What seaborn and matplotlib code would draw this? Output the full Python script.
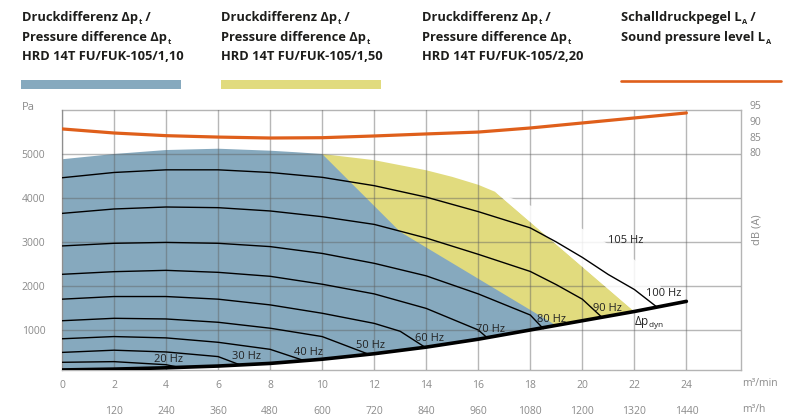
"""
Fan curve chart: pressure difference vs. volume flow, with sound pressure level.
"""
import numpy as np
import pandas as pd
import matplotlib
matplotlib.use('Agg')
import matplotlib.pyplot as plt
from matplotlib.patches import Rectangle, Polygon
from matplotlib.lines import Line2D
import seaborn as sns

sns.set_style('white')
plt.rcParams['font.family'] = ['Open Sans', 'DejaVu Sans']
plt.rcParams['mathtext.fontset'] = 'custom'
plt.rcParams['mathtext.rm'] = 'Open Sans'
plt.rcParams['mathtext.bf'] = 'Open Sans:bold'
plt.rcParams['mathtext.it'] = 'Open Sans:italic'

# ---- data ----
x_ticks = [0, 2, 4, 6, 8, 10, 12, 14, 16, 18, 20, 22, 24]
x_ticks_h = [120, 240, 360, 480, 600, 720, 840, 960, 1080, 1200, 1320, 1440]
y_ticks = [1000, 2000, 3000, 4000, 5000]
db_ticks = [80, 85, 90, 95]

# fan curves per frequency (m3/min, Pa)
curve_hz = [20, 30, 40, 50, 60, 70, 80, 90, 100]
curve_q = [
    [0, 2, 4, 4.5],
    [0, 2, 4, 6, 6.85],
    [0, 2, 4, 6, 8, 9.35],
    [0, 2, 4, 6, 8, 10, 11.8],
    [0, 2, 4, 6, 8, 10, 12, 13, 13.96],
    [0, 2, 4, 6, 8, 10, 12, 14, 16, 16.35],
    [0, 2, 4, 6, 8, 10, 12, 14, 16, 18, 18.5],
    [0, 2, 4, 6, 8, 10, 12, 14, 16, 18, 19, 20, 20.76],
    [0, 2, 4, 6, 8, 10, 12, 14, 16, 18, 19, 20, 21, 22, 22.87],
]
curve_p = [
    [265, 280, 210, 150],
    [490, 540, 500, 395, 205],
    [800, 850, 820, 720, 560, 295],
    [1210, 1265, 1250, 1175, 1040, 850, 445],
    [1700, 1760, 1760, 1700, 1570, 1380, 1150, 970, 605],
    [2265, 2325, 2355, 2310, 2220, 2040, 1820, 1490, 1000, 820],
    [2910, 2970, 2990, 2970, 2895, 2740, 2515, 2230, 1820, 1340, 1030],
    [3650, 3750, 3795, 3780, 3705, 3575, 3400, 3090, 2720, 2330, 2030, 1700, 1285],
    [4460, 4580, 4640, 4640, 4580, 4470, 4280, 4020, 3690, 3320, 3000, 2650, 2260, 1920, 1520],
]
hz_label_q = [4.1, 7.1, 9.47, 11.87, 14.13, 16.49, 18.8, 20.95, 23.13, 21.65]
hz_label_p = [318, 394, 492, 644, 811, 1000, 1242, 1492, 1818, 3023]
hz_labels = ['20 Hz', '30 Hz', '40 Hz', '50 Hz', '60 Hz', '70 Hz', '80 Hz', '90 Hz', '100 Hz', '105 Hz']

# dynamic pressure line
dyn_q = [0, 2, 4, 6, 8, 10, 12, 14, 16, 18, 20, 22, 24]
dyn_p = [91, 110, 140, 180, 240, 335, 460, 610, 790, 1000, 1210, 1420, 1650]

# operating areas
blue_q = [0, 2, 4, 6, 8, 9, 10, 13, 19, 18, 16, 14, 12, 10, 8, 6, 4, 2, 0]
blue_p = [4880, 5000, 5090, 5120, 5075, 5040, 5000, 3230, 1100, 1000, 790, 610, 460, 335, 240, 180, 140, 110, 91]
yellow_q = [10, 12, 14, 15, 16, 16.65, 22, 20, 18, 16, 14, 12, 10]
yellow_p = [5000, 4860, 4630, 4480, 4300, 4140, 1420, 1210, 1000, 790, 610, 460, 335]
white_q = [16.65, 19, 20, 21, 22, 23, 23.4, 22]
white_p = [4140, 3600, 3300, 2950, 2600, 2000, 1570, 1420]

# sound pressure level (dB(A))
sound_q = [0, 2, 4, 6, 8, 10, 12, 14, 16, 18, 20, 22, 24]
sound_db = [88.0, 86.7, 85.85, 85.4, 85.1, 85.2, 85.75, 86.4, 87.0, 88.3, 89.9, 91.5, 93.1]

# header texts: (text, is_subscript) pieces per line
head_x = [22, 221, 422, 621]
head_lines = [
    [[('Druckdifferenz Δp', False), ('t', True), (' /', False)],
     [('Pressure difference Δp', False), ('t', True)],
     [('HRD 14T FU/FUK-105/1,10', False)]],
    [[('Druckdifferenz Δp', False), ('t', True), (' /', False)],
     [('Pressure difference Δp', False), ('t', True)],
     [('HRD 14T FU/FUK-105/1,50', False)]],
    [[('Druckdifferenz Δp', False), ('t', True), (' /', False)],
     [('Pressure difference Δp', False), ('t', True)],
     [('HRD 14T FU/FUK-105/2,20', False)]],
    [[('Schalldruckpegel L', False), ('A', True), (' /', False)],
     [('Sound pressure level L', False), ('A', True)]],
]

BLUE = '#86a9be'
YELLOW = '#e1db7e'
ORANGE = '#df5f1b'
GREY_TXT = '#8a8a8a'
DARK = '#1d1d1b'
HEAD_SIZE = 9.3

W, H = 791, 420
fig = plt.figure(figsize=(W / 100, H / 100), dpi=100)
ax = fig.add_axes([62 / W, 50 / H, 679 / W, 260 / H])

# areas
ax.fill(yellow_q, yellow_p, color=YELLOW, lw=0, zorder=1)
ax.fill(blue_q, blue_p, color=BLUE, lw=0, zorder=1.2)
ax.add_patch(Polygon(np.column_stack([white_q, white_p]), closed=True,
                     facecolor='white', edgecolor='none', alpha=0.85, zorder=2.7))

# fan curves
df_curves = pd.DataFrame({
    'hz': np.repeat(curve_hz, [len(q) for q in curve_q]),
    'q': np.concatenate(curve_q),
    'p': np.concatenate(curve_p),
})
sns.lineplot(data=df_curves, x='q', y='p', units='hz', estimator=None, sort=False,
             color='black', lw=1.0, ax=ax, zorder=4)
sns.lineplot(x=dyn_q, y=dyn_p, color='black', lw=2.6, ax=ax, zorder=5)

for q, p, lab in zip(hz_label_q, hz_label_p, hz_labels):
    ax.text(q, p, lab, fontsize=8, color='#222222', ha='center', va='center', zorder=6)
ax.text(22.55, 1167, r'Δp$_{\mathregular{dyn}}$', fontsize=8.5, color='#222222',
        ha='center', va='center', zorder=6)

ax.set_xlim(0, 26.1)
ax.set_ylim(90, 6000)
ax.set_xticks(x_ticks)
ax.set_yticks(y_ticks)
ax.set_xlabel('')
ax.set_ylabel('')
ax.set_axisbelow(False)
ax.grid(True, color='#606060', alpha=0.45, lw=1.0)
for s in ax.spines.values():
    s.set_color('#b4b4b4')
    s.set_linewidth(1.0)
ax.tick_params(length=0, labelsize=7.5, labelcolor=GREY_TXT)
ax.tick_params(axis='y', pad=12)
ax.tick_params(axis='x', pad=7)

# second flow axis in m3/h
sec = ax.secondary_xaxis(-0.1, functions=(lambda q: q * 60, lambda v: v / 60))
sec.set_xticks(x_ticks_h)
sec.spines['bottom'].set_visible(False)
sec.tick_params(length=0, labelsize=7.5, labelcolor=GREY_TXT, pad=7)

# sound level on twin axis
ax2 = ax.twinx()
sns.lineplot(x=sound_q, y=sound_db, color=ORANGE, lw=2.3, ax=ax2, zorder=5)
ax2.set_ylim(11.06, 94.04)
ax2.set_yticks([])
ax2.set_ylabel('')
for s in ax2.spines.values():
    s.set_visible(False)
for v in db_ticks:
    ax2.text(1.0118, v, str(v), transform=ax2.get_yaxis_transform(), fontsize=7.5,
             color=GREY_TXT, ha='left', va='center', clip_on=False)

# unit labels
fig.text(22 / W, 1 - 107 / H, 'Pa', fontsize=8, color=GREY_TXT, ha='left', va='center')
fig.text(742 / W, 1 - 384 / H, 'm³/min', fontsize=7.5, color=GREY_TXT, ha='left', va='center')
fig.text(742 / W, 1 - 410 / H, 'm³/h', fontsize=7.5, color=GREY_TXT, ha='left', va='center')
fig.text(757 / W, 1 - 230 / H, 'dB (A)', fontsize=8, color=GREY_TXT, rotation=90,
         ha='center', va='center')

# header legend; pieces chained so subscripts sit right after their base text
line_bottoms = [24.0, 44.0, 63.0]
for x0, lines in zip(head_x, head_lines):
    for yb, parts in zip(line_bottoms, lines):
        base = fig.text(x0 / W, 1 - yb / H, parts[0][0], fontsize=HEAD_SIZE,
                        fontweight='bold', color=DARK, ha='left', va='bottom')
        last = base
        for txt, is_sub in parts[1:]:
            if is_sub:
                last = ax.annotate(txt, xy=(1, 0), xycoords=last, xytext=(0.5, -1.2),
                                   textcoords='offset points', fontsize=HEAD_SIZE * 0.58,
                                   fontweight='bold', color=DARK, ha='left', va='bottom',
                                   annotation_clip=False)
            else:
                last = ax.annotate(txt, xy=(1, 0), xycoords=(last, base), xytext=(0, 0),
                                   textcoords='offset points', fontsize=HEAD_SIZE,
                                   fontweight='bold', color=DARK, ha='left', va='bottom',
                                   annotation_clip=False)

fig.add_artist(Rectangle((21 / W, 1 - 89 / H), 160 / W, 9 / H, color=BLUE,
                         transform=fig.transFigure, lw=0))
fig.add_artist(Rectangle((221 / W, 1 - 89 / H), 160 / W, 9 / H, color=YELLOW,
                         transform=fig.transFigure, lw=0))
fig.add_artist(Line2D([621 / W, 781 / W], [1 - 81 / H, 1 - 81 / H], color=ORANGE,
                      lw=1.9, transform=fig.transFigure))

fig.savefig('out.png', dpi=100)
